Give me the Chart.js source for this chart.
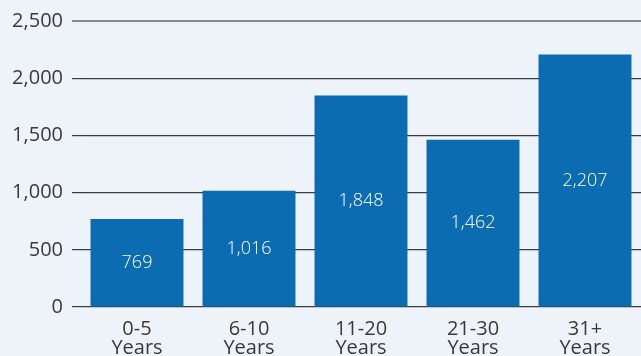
<!DOCTYPE html>
<html>
<head>
<meta charset="utf-8">
<script src="https://cdn.jsdelivr.net/npm/chart.js@4/dist/chart.umd.min.js"></script>
<style>
  html, body { margin: 0; padding: 0; background: #eef2f9; }
  #wrap { width: 641px; height: 356px; }
</style>
</head>
<body>
<div id="wrap"><canvas id="my-chart" width="641" height="356"></canvas></div>
<script>
const categories = [["0-5", "Years"], ["6-10", "Years"], ["11-20", "Years"], ["21-30", "Years"], ["31+", "Years"]];
const counts = [769, 1016, 1848, 1462, 2207];
const tickValues = [0, 500, 1000, 1500, 2000, 2500];

const fontFamily = "'Open Sans', 'Noto Sans', sans-serif";

// write the value in the middle of each bar
const barLabels = {
    id: "barLabels",
    afterDatasetsDraw(chart) {
        const ctx = chart.ctx;
        const meta = chart.getDatasetMeta(0);
        ctx.save();
        ctx.fillStyle = "#ffffff";
        ctx.font = "300 18px " + fontFamily;
        ctx.textAlign = "center";
        ctx.textBaseline = "middle";
        meta.data.forEach((bar, i) => {
            const mid = (bar.y + bar.base) / 2;
            ctx.fillText(counts[i].toLocaleString("en-US"), bar.x, mid);
        });
        ctx.restore();
    }
};

const myChart = document.getElementById("my-chart");
const topValue = tickValues[tickValues.length - 1];

new Chart(myChart, {
    type: "bar",
    data: {
        labels: categories,
        datasets: [
            {
                label: "Count",
                data: counts,
                backgroundColor: "#0c6cb1",
                borderWidth: 0,
                categoryPercentage: 1,
                barPercentage: 0.83,
            },
        ],
    },
    options: {
        responsive: false,
        animation: false,
        layout: { padding: { top: 20, right: 0, left: 0, bottom: 0 } },
        plugins: {
            legend: { display: false },
            tooltip: { enabled: false },
        },
        scales: {
            x: {
                grid: { display: false },
                border: { display: false },
                ticks: {
                    color: "#3a3a3a",
                    font: { family: fontFamily, size: 20, lineHeight: 0.98 },
                    padding: 4,
                    maxRotation: 0,
                },
                afterFit(scale) { scale.height = 49; },
            },
            y: {
                min: 0,
                max: 2500,
                afterBuildTicks(scale) {
                    scale.ticks = tickValues.map(v => ({ value: v }));
                },
                border: { display: false },
                grid: {
                    // top line is lighter and a bit thicker in the original
                    color: ctx => (ctx.tick && ctx.tick.value >= topValue ? "#8a8a8e" : "#3c3c40"),
                    lineWidth: ctx => (ctx.tick && ctx.tick.value >= topValue ? 2 : 1.2),
                    tickLength: 9,
                    drawTicks: true,
                },
                ticks: {
                    color: "#3a3a3a",
                    font: { family: fontFamily, size: 20 },
                    padding: 9,
                    callback: v => v.toLocaleString("en-US"),
                },
                afterFit(scale) { scale.width = 81; },
            },
        },
    },
    plugins: [barLabels],
});
</script>
</body>
</html>
